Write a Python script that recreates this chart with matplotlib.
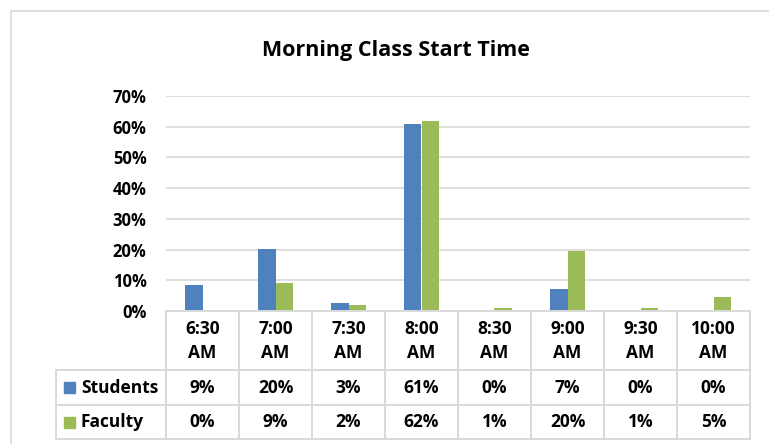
import matplotlib
matplotlib.use("Agg")
import matplotlib.pyplot as plt
from matplotlib.transforms import blended_transform_factory
from matplotlib.lines import Line2D
from matplotlib.patches import Rectangle

# ── Data ──────────────────────────────────────────────────────────────────────
times    = ["6:30\nAM", "7:00\nAM", "7:30\nAM", "8:00\nAM",
            "8:30\nAM", "9:00\nAM", "9:30\nAM", "10:00\nAM"]
students = [8.6, 20.2, 2.7, 60.8, 0.0, 7.2, 0.0, 0.0]
faculty  = [0.0, 9.1, 2.1, 61.9, 0.9, 19.6, 0.9, 4.6]
students_lbl = ["9%", "20%", "3%", "61%", "0%", "7%", "0%", "0%"]
faculty_lbl  = ["0%", "9%", "2%", "62%", "1%", "20%", "1%", "5%"]
yticks = [0, 10, 20, 30, 40, 50, 60, 70]

BLUE, GREEN, GRID = "#4F81BD", "#9BBB59", "#D9D9D9"
plt.rcParams["font.family"] = ["Open Sans", "DejaVu Sans"]
plt.rcParams["font.weight"] = "bold"
FS_TICK, FS_TAB = 12, 12.5

W, H = 769, 444
fig = plt.figure(figsize=(W/100, H/100), dpi=100)
fy = lambda py: 1 - py/H

# chart border
fig.add_artist(Rectangle((11/W, -0.1), 1.0, fy(11) + 0.1, transform=fig.transFigure,
                         fill=False, edgecolor=GRID, lw=1.2))

x0, x1, y0, y1 = 166, 750, 311, 96
ax = fig.add_axes([x0/W, fy(y0), (x1-x0)/W, (y0-y1)/H])
n = len(times)
idx = list(range(n))
bw = 0.235
ax.bar([i - bw/2 for i in idx], students, bw, color=BLUE, zorder=3)
ax.bar([i + bw/2 for i in idx], faculty, bw, color=GREEN, zorder=3)
ax.set_xlim(-0.5, n - 0.5)
ax.set_ylim(0, 70)
ax.set_yticks(yticks)
ax.set_yticklabels([f"{v}%" for v in yticks], fontsize=FS_TICK, fontweight="bold")
ax.tick_params(axis="y", length=0, pad=14)
ax.set_xticks([])
ax.grid(axis="y", color=GRID, lw=1.2, zorder=0)
for s in ax.spines.values():
    s.set_visible(False)
fig.text(396/W, fy(56), "Morning Class Start Time", ha="center", va="baseline",
         fontsize=15.5, fontweight="bold")

# ── Data table ────────────────────────────────────────────────────────────────
tr = blended_transform_factory(ax.transData, fig.transFigure)
left = -0.5 - (x0 - 56) / ((x1 - x0) / n)
rows = [311, 370, 405, 439]
kw = dict(transform=tr, color=GRID, lw=1.4, clip_on=False)
fig.add_artist(Line2D([-0.5, n - 0.5], [fy(rows[0])]*2, **kw))
for r in rows[1:]:
    fig.add_artist(Line2D([left, n - 0.5], [fy(r)]*2, **kw))
fig.add_artist(Line2D([left, left], [fy(rows[1]), fy(rows[3])], **kw))
for i in range(n + 1):
    fig.add_artist(Line2D([i - 0.5, i - 0.5], [fy(rows[0]), fy(rows[3])], **kw))

tkw = dict(transform=tr, ha="center", va="center", fontsize=FS_TAB, fontweight="bold")
for i in idx:
    fig.text(i, fy(341), times[i], linespacing=1.4, **tkw)
    fig.text(i, fy((rows[1] + rows[2]) / 2), students_lbl[i], **tkw)
    fig.text(i, fy((rows[2] + rows[3]) / 2), faculty_lbl[i], **tkw)

for name, col, (ra, rb) in [("Students", BLUE, rows[1:3]), ("Faculty", GREEN, rows[2:4])]:
    yc = (ra + rb) / 2
    fig.add_artist(Rectangle((64/W, fy(yc + 5.5)), 11/W, 11/H, transform=fig.transFigure,
                             color=col))
    fig.text(81/W, fy(yc), name, ha="left", va="center", fontsize=FS_TAB, fontweight="bold")

fig.savefig("out.png", dpi=100)
